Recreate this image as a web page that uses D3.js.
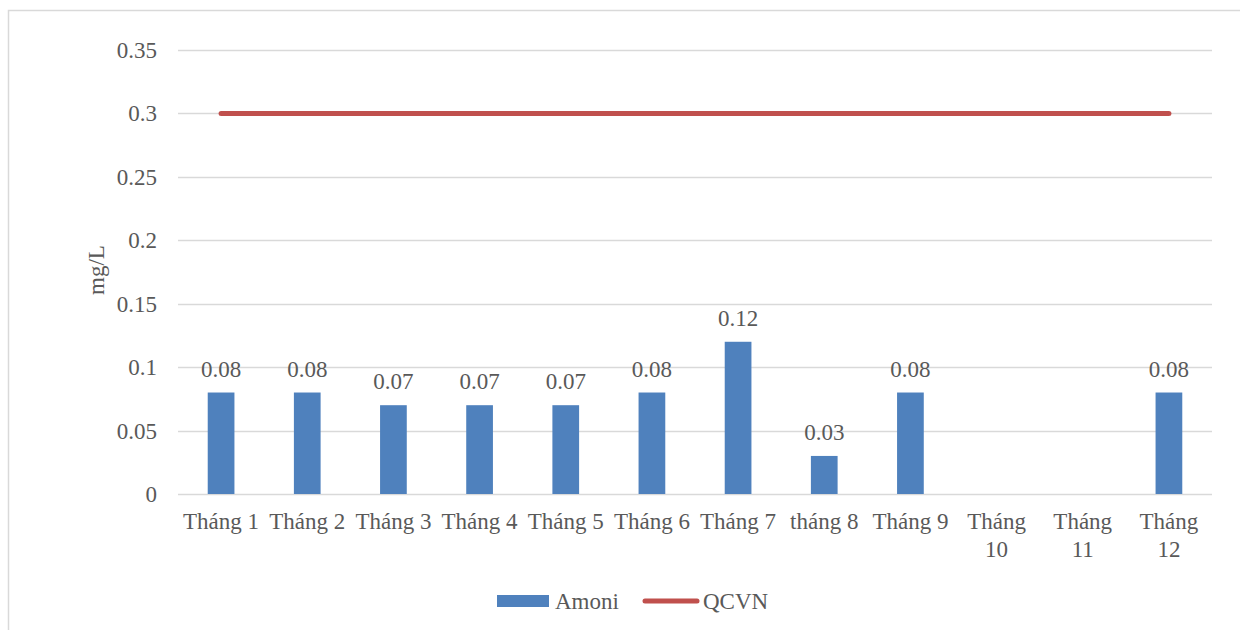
<!DOCTYPE html>
<html><head><meta charset="utf-8">
<script src="https://cdn.jsdelivr.net/npm/d3@7"></script>
<style>body{margin:0;background:#fff}svg{display:block}</style>
</head><body>
<svg id="c" width="1240" height="630"></svg>
<script>
const categories = ["Tháng 1","Tháng 2","Tháng 3","Tháng 4","Tháng 5","Tháng 6","Tháng 7","tháng 8","Tháng 9","Tháng 10","Tháng 11","Tháng 12"];
const amoni = [0.08,0.08,0.07,0.07,0.07,0.08,0.12,0.03,0.08,null,null,0.08];
const qcvn = [0.3,0.3,0.3,0.3,0.3,0.3,0.3,0.3,0.3,0.3,0.3,0.3];
const yTicks = [0,0.05,0.1,0.15,0.2,0.25,0.3,0.35];
const yTickLabels = ["0","0.05","0.1","0.15","0.2","0.25","0.3","0.35"];

const svg = d3.select("#c");
const font = "'Liberation Serif','Times New Roman',serif";
const txt = "#595959";
const fs = 23;
svg.append("rect").attr("x",8.5).attr("y",10.5).attr("width",1300).attr("height",700)
  .attr("fill","#fff").attr("stroke","#d9d9d9").attr("stroke-width",1.5);

const L=178,R=1212,T=50,B=494;
const x = d3.scaleBand().domain(categories).range([L,R]).paddingInner(0.69).paddingOuter(0.345);
const xc = d3.scalePoint().domain(categories).range([L,R]).padding(0.5);
const y = d3.scaleLinear().domain([0,0.35]).range([B,T]);

const g = svg.append("g");
g.selectAll("line.grid").data(yTicks).join("line")
  .attr("x1",L).attr("x2",R).attr("y1",d=>Math.round(y(d))+0.5).attr("y2",d=>Math.round(y(d))+0.5)
  .attr("stroke","#d9d9d9").attr("stroke-width",1.5);

g.selectAll("text.yt").data(yTicks).join("text")
  .attr("x",157).attr("y",d=>y(d)).attr("dy","0.35em").attr("text-anchor","end")
  .attr("font-family",font).attr("font-size",fs).attr("fill",txt)
  .text((d,i)=>yTickLabels[i]);

svg.append("text").attr("transform","translate(104,270) rotate(-90)")
  .attr("text-anchor","middle").attr("font-family",font).attr("font-size",fs).attr("fill",txt).text("mg/L");

const data = categories.map((c,i)=>({c,v:amoni[i],q:qcvn[i]}));
g.selectAll("rect.bar").data(data.filter(d=>d.v!=null)).join("rect")
  .attr("x",d=>x(d.c)).attr("width",x.bandwidth()).attr("y",d=>y(d.v)).attr("height",d=>y(0)-y(d.v))
  .attr("fill","#4F81BD");
g.selectAll("text.lbl").data(data.filter(d=>d.v!=null)).join("text")
  .attr("x",d=>x(d.c)+x.bandwidth()/2).attr("y",d=>y(d.v)-16).attr("text-anchor","middle")
  .attr("font-family",font).attr("font-size",fs).attr("fill",txt).text(d=>d.v);

const line = d3.line().x(d=>xc(d.c)).y(d=>y(d.q));
g.append("path").datum(data).attr("d",line).attr("fill","none").attr("stroke","#C0504D")
  .attr("stroke-width",5).attr("stroke-linecap","round");

// x labels with wrap
const bw = xc.step();
categories.forEach(c=>{
  const t = g.append("text").attr("x",xc(c)).attr("y",529).attr("text-anchor","middle")
    .attr("font-family",font).attr("font-size",fs).attr("fill",txt).text(c);
  if (t.node().getComputedTextLength() > bw-2) {
    const parts = c.split(" ");
    t.text(null);
    parts.forEach((p,i)=>t.append("tspan").attr("x",xc(c)).attr("y",529+i*28).text(p));
  }
});

// legend
const lg = svg.append("g");
lg.append("rect").attr("x",497).attr("y",595).attr("width",52).attr("height",12).attr("fill","#4F81BD");
lg.append("text").attr("x",555).attr("y",609).attr("font-family",font).attr("font-size",fs).attr("fill",txt).text("Amoni");
lg.append("line").attr("x1",645).attr("x2",697).attr("y1",601).attr("y2",601).attr("stroke","#C0504D").attr("stroke-width",5).attr("stroke-linecap","round");
lg.append("text").attr("x",703).attr("y",609).attr("font-family",font).attr("font-size",fs).attr("fill",txt).text("QCVN");
</script>
</body></html>
